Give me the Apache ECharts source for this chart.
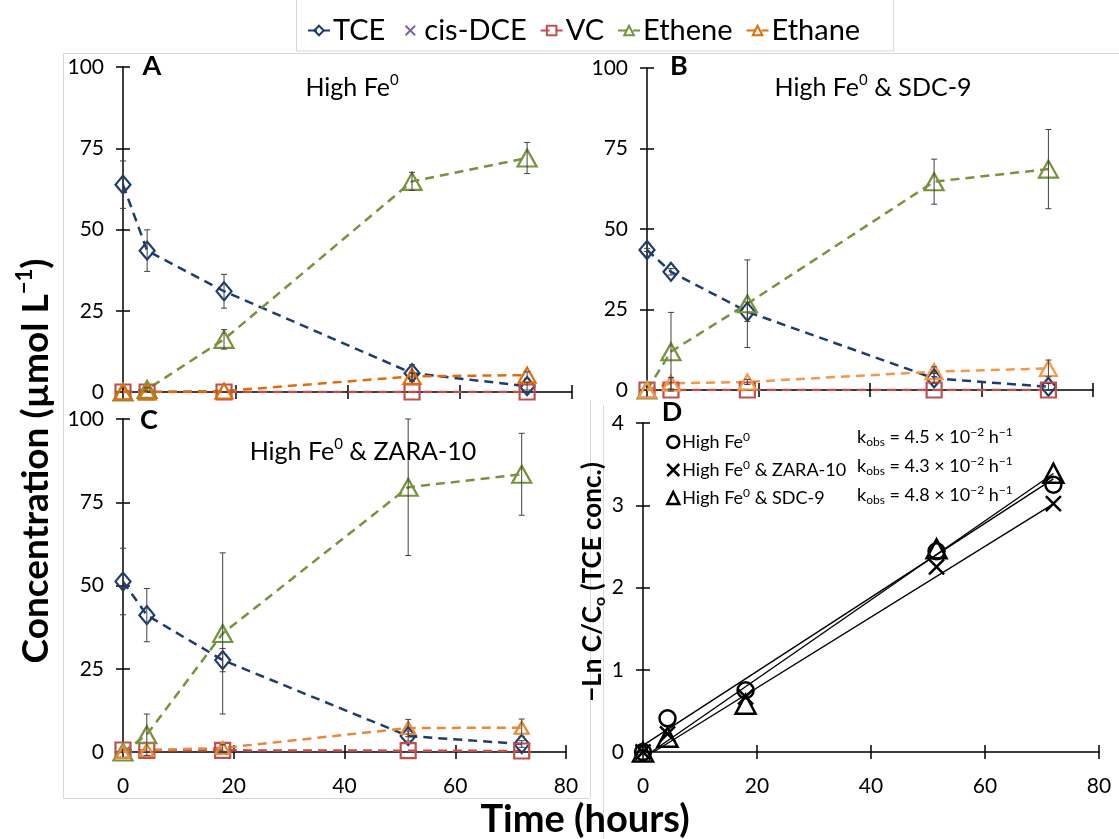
<!DOCTYPE html>
<html>
<head>
<meta charset="utf-8">
<script src="https://cdn.jsdelivr.net/npm/echarts@6/dist/echarts.min.js"></script>
<style>
  html, body { margin: 0; padding: 0; background: #fff; }
  #chart { width: 1119px; height: 839px; }
</style>
</head>
<body>
<div id="chart"></div>
<script>
// Sampling times (hours)
const hours = [0, 4.3, 18, 51.5, 72];

// Panel A: High Fe0 (µmol/L)
const tceA = [63.8, 43.5, 31.0, 5.8, 1.8];
const tceErrA = [7.3, 6.4, 5.2, 2.6, 1.2];
const dceA = [0, 0, 0, 0, 0];
const vcA = [0, 0, 0, 0, 0];
const etheneA = [0, 0.8, 16.2, 64.8, 72.0];
const etheneErrA = [0, 0.5, 3.0, 2.8, 4.8];
const ethaneA = [0, 0, 0.3, 4.8, 5.2];
const ethaneErrA = [0, 0, 0, 1.0, 1.0];

// Panel B: High Fe0 & SDC-9
const tceB = [43.5, 36.7, 24.3, 3.6, 1.0];
const tceErrB = [0.5, 1.0, 3.0, 1.5, 1.0];
const dceB = [0, 0, 0, 0, 0];
const vcB = [0, 0, 0, 0, 0];
const etheneB = [0, 11.9, 26.8, 64.7, 68.6];
const etheneErrB = [0, 12.2, 13.6, 7.0, 12.3];
const ethaneB = [0, 2.1, 2.5, 5.7, 6.7];
const ethaneErrB = [0, 1.8, 0.8, 1.5, 2.6];

// Panel C: High Fe0 & ZARA-10
const tceC = [51.2, 41.1, 27.6, 4.8, 2.4];
const tceErrC = [10.0, 8.0, 3.5, 1.5, 1.0];
const dceC = [0, 0, 0, 0, 0];
const vcC = [0.6, 0.5, 0.5, 0.4, 0.3];
const etheneC = [0, 5.2, 35.6, 79.5, 83.4];
const etheneErrC = [0, 6.2, 24.2, 20.5, 12.3];
const ethaneC = [0, 0.6, 1.2, 7.2, 7.3];
const ethaneErrC = [0, 0, 1.0, 2.6, 2.6];

// Panel D: -ln(C/C0) of TCE
const lnFe = [0, 0.41, 0.75, 2.44, 3.25];
const lnZara = [0, 0.22, 0.67, 2.25, 3.02];
const lnSdc = [0, 0.18, 0.58, 2.47, 3.39];
const kobs = [0.045, 0.043, 0.048];          // h^-1
const fitIntercept = [0.08, -0.08, -0.07];

// Tick labels
const timeTicks = [0, 20, 40, 60, 80];
const concTicks = [0, 25, 50, 75, 100];
const lnTicks = [0, 1, 2, 3, 4];

const FONT = 'Lato, "Open Sans", sans-serif';
const C_TCE = '#1f3c6e', C_DCE = '#8064a2', C_VC = '#c0504d', C_ETHENE = '#77933c';
const C_ERR = '#404040';
const CROSS = 'path://M0,0L10,10M10,0L0,10';

const chart = echarts.init(document.getElementById('chart'), null, { renderer: 'canvas' });

const grids = [
  { left: 123, right: 547, top: 67, bottom: 447 },   // A
  { left: 647, right: 26, top: 68, bottom: 449 },    // B
  { left: 123, right: 553, top: 419, bottom: 87 },   // C
  { left: 643, right: 20, top: 423, bottom: 87 }     // D
];

const axisLineStyle = { color: '#000', width: 1.5 };

function axisPair(dim, gi, ticks, showLabels) {
  const step = ticks[1] - ticks[0];
  const base = {
    type: 'value', gridIndex: gi,
    min: ticks[0], max: ticks[ticks.length - 1], interval: step,
    splitLine: { show: false }
  };
  const labelStyle = dim === 'x'
    ? { show: showLabels, fontSize: 21, color: '#000', fontFamily: FONT, margin: 24 }
    : { show: showLabels, fontSize: 21, color: '#000', fontFamily: FONT, margin: 19 };
  const main = Object.assign({}, base, {
    position: dim === 'x' ? 'bottom' : 'left',
    axisLine: { show: true, onZero: false, lineStyle: axisLineStyle },
    axisTick: { show: true, inside: false, length: 7, lineStyle: axisLineStyle },
    axisLabel: labelStyle
  });
  const inner = Object.assign({}, base, {
    position: dim === 'x' ? 'bottom' : 'left',
    axisLine: { show: false, onZero: false },
    axisTick: { show: true, inside: true, length: 7, lineStyle: axisLineStyle },
    axisLabel: { show: false }
  });
  return [main, inner];
}

const xAxes = [].concat(
  axisPair('x', 0, timeTicks, false),
  axisPair('x', 1, timeTicks, false),
  axisPair('x', 2, timeTicks, true),
  axisPair('x', 3, timeTicks, true)
);
const yAxes = [].concat(
  axisPair('y', 0, concTicks, true),
  axisPair('y', 1, concTicks, true),
  axisPair('y', 2, concTicks, true),
  axisPair('y', 3, lnTicks, true)
);

function lineSeries(name, gi, vals, color, symbol, size, extra) {
  return Object.assign({
    type: 'line', name: name,
    xAxisIndex: gi * 2, yAxisIndex: gi * 2,
    data: hours.map((t, i) => [t, vals[i]]),
    symbol: symbol, symbolSize: size, showAllSymbol: true,
    lineStyle: { color: color, width: 2.5, type: [9, 6] },
    itemStyle: { color: 'rgba(0,0,0,0)', borderColor: color, borderWidth: 2.2 },
    emphasis: { disabled: true },
    animation: false, z: 3
  }, extra || {});
}

function errSeries(gi, vals, errs) {
  const data = [];
  hours.forEach((t, i) => {
    if (errs[i] > 0) data.push([t, vals[i] - errs[i], vals[i] + errs[i]]);
  });
  return {
    type: 'custom', xAxisIndex: gi * 2, yAxisIndex: gi * 2,
    data: data, encode: { x: 0, y: [1, 2] },
    silent: true, animation: false, z: 6, clip: false,
    renderItem: function (params, api) {
      const x = api.value(0);
      const lo = api.coord([x, api.value(1)]);
      const hi = api.coord([x, api.value(2)]);
      const w = 3;
      const st = { stroke: C_ERR, lineWidth: 1 };
      return {
        type: 'group',
        children: [
          { type: 'line', shape: { x1: hi[0], y1: hi[1], x2: lo[0], y2: lo[1] }, style: st },
          { type: 'line', shape: { x1: hi[0] - w, y1: hi[1], x2: hi[0] + w, y2: hi[1] }, style: st },
          { type: 'line', shape: { x1: lo[0] - w, y1: lo[1], x2: lo[0] + w, y2: lo[1] }, style: st }
        ]
      };
    }
  };
}

function panelSeries(gi, tce, tceErr, dce, vc, ethene, etheneErr, ethane, ethaneErr, ethaneColor, ethaneSize) {
  return [
    lineSeries('TCE', gi, tce, C_TCE, 'diamond', [15, 18]),
    lineSeries('cis-DCE', gi, dce, C_DCE, CROSS, 9, {
      showSymbol: false, lineStyle: { color: C_DCE, width: 2, opacity: 0 },
      itemStyle: { color: 'rgba(0,0,0,0)', borderColor: C_DCE, borderWidth: 1.5 }
    }),
    lineSeries('VC', gi, vc, C_VC, 'rect', 15),
    lineSeries('Ethene', gi, ethene, C_ETHENE, 'triangle', [19, 17]),
    lineSeries('Ethane', gi, ethane, ethaneColor, 'triangle', ethaneSize),
    errSeries(gi, tce, tceErr),
    errSeries(gi, ethene, etheneErr),
    errSeries(gi, ethane, ethaneErr)
  ];
}

const series = [].concat(
  panelSeries(0, tceA, tceErrA, dceA, vcA, etheneA, etheneErrA, ethaneA, ethaneErrA, '#e36c0a', [17, 15]),
  panelSeries(1, tceB, tceErrB, dceB, vcB, etheneB, etheneErrB, ethaneB, ethaneErrB, '#f79646', [17, 15]),
  panelSeries(2, tceC, tceErrC, dceC, vcC, etheneC, etheneErrC, ethaneC, ethaneErrC, '#e8893a', [14, 12])
);

// Panel D: first-order TCE decay, points and fitted lines
const dNames = ['High Fe0', 'High Fe0 & ZARA-10', 'High Fe0 & SDC-9'];
const dValues = [lnFe, lnZara, lnSdc];
const dSymbols = [['circle', 16], [CROSS, 15], ['triangle', [20, 19]]];
dNames.forEach((name, k) => {
  series.push({
    type: 'scatter', name: name, xAxisIndex: 6, yAxisIndex: 6,
    data: hours.map((t, i) => [t, dValues[k][i]]),
    symbol: dSymbols[k][0], symbolSize: dSymbols[k][1],
    itemStyle: { color: 'rgba(0,0,0,0)', borderColor: '#000', borderWidth: 2.5, opacity: 1 },
    emphasis: { disabled: true }, animation: false, z: 4
  });
  const t0 = Math.max(0, -fitIntercept[k] / kobs[k]);
  const t1 = hours[hours.length - 1];
  series.push({
    type: 'line', xAxisIndex: 6, yAxisIndex: 6,
    data: [[t0, kobs[k] * t0 + fitIntercept[k]], [t1, kobs[k] * t1 + fitIntercept[k]]],
    symbol: 'none', lineStyle: { color: '#000', width: 1.4 },
    emphasis: { disabled: true }, animation: false, z: 3, silent: true
  });
});

const supRich = {
  n: { fontSize: 18, fontFamily: FONT, color: '#000', lineHeight: 22 },
  sup: { fontSize: 12, fontFamily: FONT, color: '#000', lineHeight: 12, verticalAlign: 'top' },
  sub: { fontSize: 12, fontFamily: FONT, color: '#000', lineHeight: 12, verticalAlign: 'bottom' }
};
const dLegendText = {
  'High Fe0': '{n|High Fe}{sup|0}',
  'High Fe0 & ZARA-10': '{n|High Fe}{sup|0}{n| & ZARA-10}',
  'High Fe0 & SDC-9': '{n|High Fe}{sup|0}{n| & SDC-9}'
};

const titleRich = {
  t: { fontSize: 25, fontFamily: FONT, color: '#000', lineHeight: 30 },
  sup: { fontSize: 15, fontFamily: FONT, color: '#000', lineHeight: 15, verticalAlign: 'top' }
};

function text(x, y, str, rich, extra) {
  return Object.assign({
    type: 'text', x: x, y: y, z: 10,
    style: { text: str, rich: rich, textAlign: 'center', textVerticalAlign: 'middle', align: 'center', verticalAlign: 'middle' }
  }, extra || {});
}
function letter(x, y, s) {
  return {
    type: 'text', x: x, y: y, z: 10,
    style: { text: s, font: 'bold 27px ' + FONT, fill: '#000', textAlign: 'center', textVerticalAlign: 'middle', align: 'center', verticalAlign: 'middle' }
  };
}
function hline(x1, x2, y) {
  return { type: 'line', z: 0, silent: true, shape: { x1: x1, y1: y, x2: x2, y2: y }, style: { stroke: '#d9d9d9', lineWidth: 1 } };
}
function vline(x, y1, y2) {
  return { type: 'line', z: 0, silent: true, shape: { x1: x, y1: y1, x2: x, y2: y2 }, style: { stroke: '#d9d9d9', lineWidth: 1 } };
}

const graphics = [
  // panel frames
  vline(63.5, 53, 798), hline(63, 1119, 53.5),
  vline(590.5, 400, 798), hline(63, 590, 798.5), vline(603.5, 405, 839),
  // legend box
  { type: 'rect', z: 1, silent: true, shape: { x: 296.5, y: -1, width: 597, height: 52 }, style: { fill: '#fff', stroke: '#d9d9d9', lineWidth: 1 } },
  letter(152, 66, 'A'), letter(679, 66, 'B'), letter(149, 420, 'C'), letter(672, 412, 'D'),
  text(352, 88, '{t|High Fe}{sup|0}', titleRich),
  text(873, 88, '{t|High Fe}{sup|0}{t| & SDC-9}', titleRich),
  text(363, 452, '{t|High Fe}{sup|0}{t| & ZARA-10}', titleRich),
  text(36, 461, '{b|Concentration (µmol L}{sup|−1}{b|)}', {
    b: { fontSize: 37, fontWeight: 'bold', fontFamily: FONT, color: '#000', lineHeight: 44 },
    sup: { fontSize: 22, fontWeight: 'bold', fontFamily: FONT, color: '#000', lineHeight: 22, verticalAlign: 'top' }
  }, { rotation: Math.PI / 2 }),
  text(593, 582, '{b|−Ln C/C}{sub|o}{b| (TCE conc.)}', {
    b: { fontSize: 26, fontWeight: 'bold', fontFamily: FONT, color: '#000', lineHeight: 30 },
    sub: { fontSize: 16, fontWeight: 'bold', fontFamily: FONT, color: '#000', lineHeight: 16, verticalAlign: 'bottom' }
  }, { rotation: Math.PI / 2 }),
  text(585, 820, '{b|Time (hours)}', {
    b: { fontSize: 38, fontWeight: 'bold', fontFamily: FONT, color: '#000', lineHeight: 44 }
  })
];
// rate constants next to the panel D legend
const kRowY = [437, 466, 495];
kobs.forEach((k, i) => {
  graphics.push({
    type: 'text', x: 857, y: kRowY[i], z: 10,
    style: {
      text: '{n|k}{sub|obs}{n| = ' + (k * 100).toFixed(1) + ' × 10}{sup|−2}{n| h}{sup|−1}',
      rich: supRich, textAlign: 'left', textVerticalAlign: 'middle', align: 'left', verticalAlign: 'middle'
    }
  });
});

chart.setOption({
  animation: false,
  backgroundColor: '#fff',
  textStyle: { fontFamily: FONT },
  grid: grids,
  xAxis: xAxes,
  yAxis: yAxes,
  legend: [
    {
      data: ['TCE', 'cis-DCE', 'VC', 'Ethene', 'Ethane'],
      left: 302, top: 11, z: 5,
      itemWidth: 22, itemHeight: 12, itemGap: 13,
      selectedMode: false,
      textStyle: { fontSize: 29, fontFamily: FONT, color: '#000', padding: [0, 0, 0, -2] }
    },
    {
      data: dNames,
      orient: 'vertical', left: 661, top: 426, z: 5,
      itemWidth: 12, itemHeight: 12, itemGap: 8,
      selectedMode: false,
      itemStyle: { color: 'rgba(0,0,0,0)', borderColor: '#000', borderWidth: 2.5, opacity: 1 },
      formatter: name => dLegendText[name],
      textStyle: { rich: supRich, fontSize: 18, fontFamily: FONT, color: '#000', padding: [0, 0, 0, -2] }
    }
  ],
  graphic: graphics,
  series: series
});
</script>
</body>
</html>
